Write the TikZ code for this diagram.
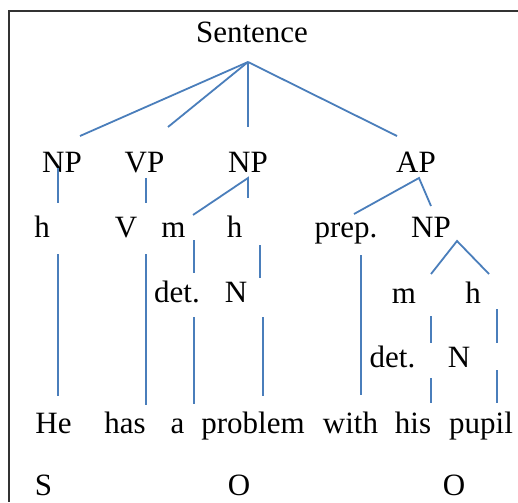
\documentclass[tikz,border=0pt]{standalone}
\usepackage{fontspec}
\setmainfont{Liberation Serif}
\definecolor{lineblue}{HTML}{4A7EBB}
\begin{document}
\begin{tikzpicture}[x=1pt,y=-1pt,
  lbl/.style={font=\fontsize{31}{36}\selectfont, inner sep=0pt, anchor=base},
  branch/.style={draw=lineblue, line width=1.8pt},
  frameline/.style={draw=black!80, line width=1.3pt}]
\useasboundingbox (0,0) rectangle (518,502);
% frame
\coordinate (fa) at (518,11);
\coordinate (fb) at (9,11);
\coordinate (fc) at (9,502);
\draw[frameline] (fa) -- (fb) -- (fc);
% labels
\node[lbl] (sent) at (252,43) {Sentence};
\node[lbl] (npA) at (62,173) {NP};
\node[lbl] (vpA) at (144.5,173) {VP};
\node[lbl] (npB) at (248,173) {NP};
\node[lbl] (apA) at (416,173) {AP};
\node[lbl] (hA) at (42,237) {h};
\node[lbl] (vA) at (126,237) {V};
\node[lbl] (mA) at (173.5,237) {m};
\node[lbl] (hB) at (234.5,237) {h};
\node[lbl] (prepA) at (346,237) {prep.};
\node[lbl] (npC) at (431,237) {NP};
\node[lbl] (detA) at (177,302) {det.};
\node[lbl] (nA) at (236,302) {N};
\node[lbl] (mB) at (404,303) {m};
\node[lbl] (hC) at (473,303) {h};
\node[lbl] (detB) at (392.5,367) {det.};
\node[lbl] (nB) at (459,367) {N};
\node[lbl] (wHe) at (53.5,433) {He};
\node[lbl] (wHas) at (125,433) {has};
\node[lbl] (wA) at (177.5,433) {a};
\node[lbl] (wProblem) at (253,433) {problem};
\node[lbl] (wWith) at (350.5,433) {with};
\node[lbl] (wHis) at (413,433) {his};
\node[lbl] (wPupil) at (481,433) {pupil};
\node[lbl] (fS) at (43.5,495) {S};
\node[lbl] (fO1) at (239,495) {O};
\node[lbl] (fO2) at (454,495) {O};
% connector end points
\coordinate (top) at (248,62);
\coordinate (t1) at (80,136);
\coordinate (t2) at (168,127);
\coordinate (t3) at (248,127);
\coordinate (t4) at (397,136);
\coordinate (np1a) at (58,168);
\coordinate (np1b) at (58,203);
\coordinate (vp1a) at (146,178);
\coordinate (vp1b) at (146,203);
\coordinate (np2a) at (248,178);
\coordinate (np2m) at (193,215);
\coordinate (np2h) at (248,198);
\coordinate (ap1a) at (419,178);
\coordinate (ap1p) at (354,214);
\coordinate (ap1n) at (431,206);
\coordinate (np3a) at (457,241);
\coordinate (np3m) at (431,274);
\coordinate (np3h) at (489,274);
\coordinate (hA1) at (58,254);
\coordinate (hA2) at (58,396);
\coordinate (vA1) at (146,254);
\coordinate (vA2) at (146,405);
\coordinate (mA1) at (194,240);
\coordinate (mA2) at (194,273);
\coordinate (dA1) at (194,317);
\coordinate (dA2) at (194,404);
\coordinate (hB1) at (260,245);
\coordinate (hB2) at (260,278);
\coordinate (nA1) at (263,317);
\coordinate (nA2) at (263,396);
\coordinate (pA1) at (361,255);
\coordinate (pA2) at (361,395);
\coordinate (mB1) at (431,316);
\coordinate (mB2) at (431,343);
\coordinate (dB1) at (431,378);
\coordinate (dB2) at (431,403);
\coordinate (hC1) at (497,309);
\coordinate (hC2) at (497,343);
\coordinate (nB1) at (497,370);
\coordinate (nB2) at (497,403);
% connectors
\draw[branch] (top) -- (t1);
\draw[branch] (top) -- (t2);
\draw[branch] (top) -- (t3);
\draw[branch] (top) -- (t4);
\draw[branch] (np1a) -- (np1b);
\draw[branch] (vp1a) -- (vp1b);
\draw[branch] (np2m) -- (np2a) -- (np2h);
\draw[branch] (ap1p) -- (ap1a) -- (ap1n);
\draw[branch] (np3m) -- (np3a) -- (np3h);
\draw[branch] (hA1) -- (hA2);
\draw[branch] (vA1) -- (vA2);
\draw[branch] (mA1) -- (mA2);
\draw[branch] (dA1) -- (dA2);
\draw[branch] (hB1) -- (hB2);
\draw[branch] (nA1) -- (nA2);
\draw[branch] (pA1) -- (pA2);
\draw[branch] (mB1) -- (mB2);
\draw[branch] (dB1) -- (dB2);
\draw[branch] (hC1) -- (hC2);
\draw[branch] (nB1) -- (nB2);
\end{tikzpicture}
\end{document}
